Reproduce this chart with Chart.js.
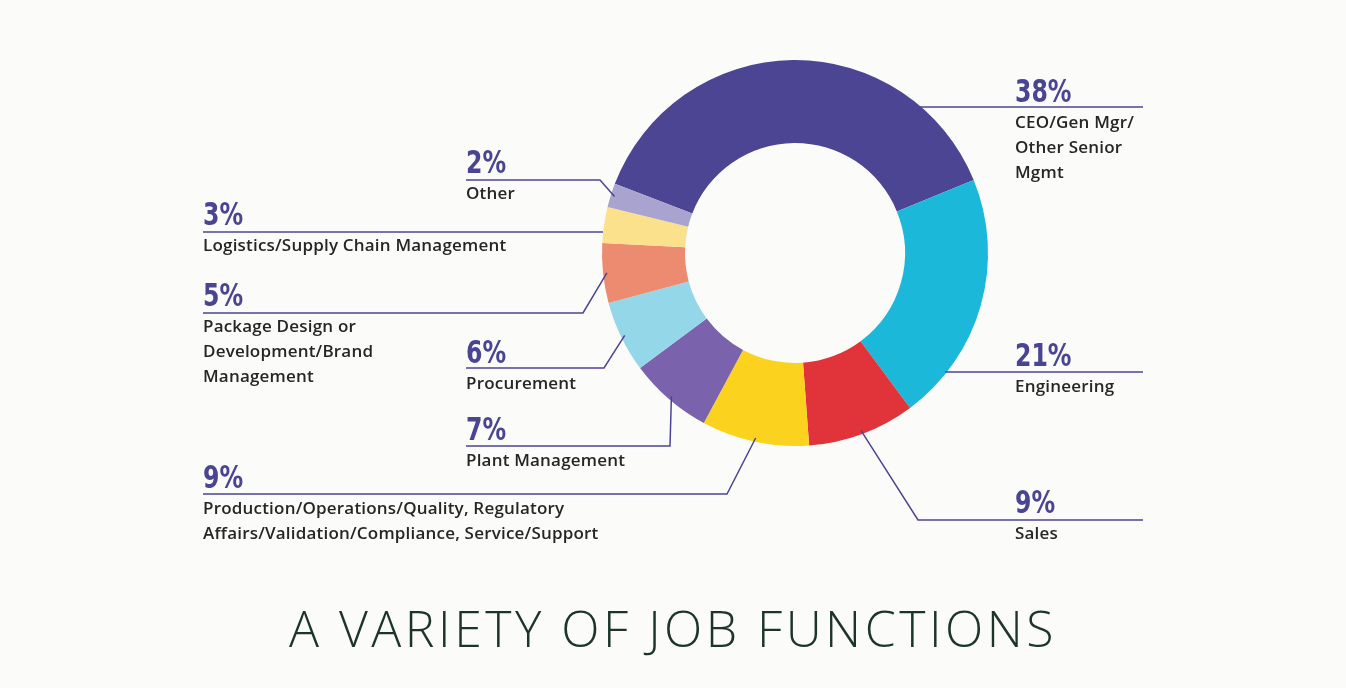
<!DOCTYPE html>
<html><head><meta charset="utf-8">
<script src="https://cdn.jsdelivr.net/npm/chart.js@4"></script>
<style>
html,body{margin:0;padding:0;background:#fbfbf9;width:1346px;height:688px;overflow:hidden;position:relative;font-family:'Lato','Open Sans',sans-serif}
#wrap{position:absolute;left:0;top:0;width:1346px;height:688px}
.lab{position:absolute;color:#1f1f1f}
.pct{font-family:'Liberation Sans Narrow','DejaVu Sans Condensed',sans-serif;font-weight:bold;font-size:32px;line-height:32px;color:#4a4593;transform:scaleX(0.82);transform-origin:left}
.txt{font-family:'Open Sans',sans-serif;font-size:17px;font-weight:600;line-height:25px;color:#262626;margin-top:2px;letter-spacing:0.2px;white-space:nowrap}
#title{position:absolute;left:0;width:1346px;top:594px;text-align:center;font-family:'Open Sans',sans-serif;font-weight:300;font-size:50px;letter-spacing:3.5px;color:#1d3529}
</style></head><body>
<div id="wrap"><canvas id="c" width="1346" height="688"></canvas></div>
<div id="labels"></div>
<div id="title">A VARIETY OF JOB FUNCTIONS</div>
<script>
const categories = ["CEO/Gen Mgr/<br>Other Senior<br>Mgmt","Engineering","Sales","Production/Operations/Quality, Regulatory<br>Affairs/Validation/Compliance, Service/Support","Plant Management","Procurement","Package Design or<br>Development/Brand<br>Management","Logistics/Supply Chain Management","Other"];
const values = [38,21,9,9,7,6,5,3,2];
const colors = ["#4c4593","#1bb8da","#e0333a","#fbd31f","#7b62ad","#94d7e9","#ec8b6f","#fbe18b","#a9a3d0"];
// label layout: [left, pct centre y, elbow x, elbow y, line end x]
const labelPos = [[1015,91,920,107,1143],[1015,355,945,372,1143],[1015,502,918,520,1143],[203,477,727,494,203],[466,429,670,446,466],[466,352,604,368,466],[203,295,583,313,203],[203,214,603,232,203],[466,162,600,180,466]];
const L = document.getElementById('labels');
categories.forEach((c,i)=>{
  const p=labelPos[i];const d=document.createElement('div');d.className='lab';
  d.style.left=p[0]+'px';d.style.top=(p[1]-16)+'px';
  d.innerHTML='<div class="pct">'+values[i]+'%</div><div class="txt">'+c+'</div>';
  L.appendChild(d);
});
const leaders={id:'leaders',afterDatasetsDraw(ch){
  const ctx=ch.ctx;const meta=ch.getDatasetMeta(0);
  ctx.save();ctx.strokeStyle='#4c4593';ctx.lineWidth=1.5;
  meta.data.forEach((a,i)=>{
    const p=labelPos[i];const m=(a.startAngle+a.endAngle)/2;
    let r=a.outerRadius*0.98;
    let sx=a.x+Math.cos(m)*r, sy=a.y+Math.sin(m)*r;
    if(i===0||i===1||i===7){sx=p[2];sy=p[3];}
    ctx.beginPath();ctx.moveTo(sx,sy);ctx.lineTo(p[2],p[3]);ctx.lineTo(p[4],p[3]);ctx.stroke();
  });
  ctx.restore();
}};
new Chart(document.getElementById('c'),{type:'doughnut',
 data:{labels:categories,datasets:[{data:values,backgroundColor:colors,borderWidth:0}]},
 options:{responsive:false,animation:false,rotation:-69,cutout:'57%',
  layout:{padding:{left:602,right:358,top:60,bottom:242}},
  plugins:{legend:{display:false},tooltip:{enabled:false}}},
 plugins:[leaders]});
</script></body></html>
